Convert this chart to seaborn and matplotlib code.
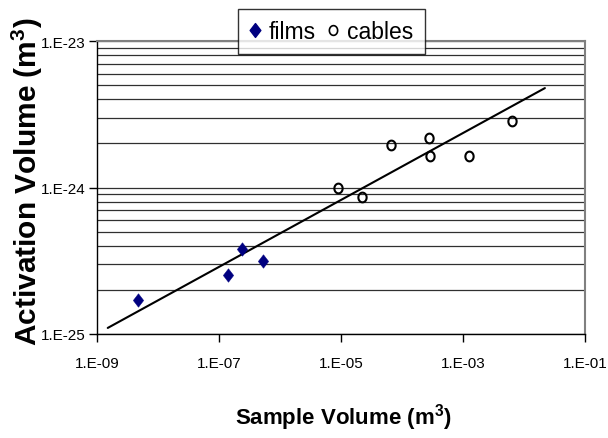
import numpy as np
import pandas as pd
import matplotlib
matplotlib.use("Agg")
import matplotlib.pyplot as plt
from matplotlib.path import Path
from matplotlib.lines import Line2D
import seaborn as sns

# ---- data ----
films_x = [4.7e-9, 1.41e-7, 2.41e-7, 5.26e-7]
films_y = [1.71e-25, 2.51e-25, 3.78e-25, 3.15e-25]
cables_x = [8.9e-6, 2.2e-5, 6.7e-5, 2.74e-4, 2.92e-4, 1.24e-3, 6.35e-3]
cables_y = [1.0e-24, 8.6e-25, 1.95e-24, 2.17e-24, 1.65e-24, 1.65e-24, 2.86e-24]
trend_x = [1.5e-9, 2.2e-2]
trend_y = [1.1e-25, 4.77e-24]
x_ticks = [1e-9, 1e-7, 1e-5, 1e-3, 1e-1]
x_tick_labels = ["1.E-09", "1.E-07", "1.E-05", "1.E-03", "1.E-01"]
y_ticks = [1e-25, 1e-24, 1e-23]
y_tick_labels = ["1.E-25", "1.E-24", "1.E-23"]

sns.set_style("white")
plt.rcParams['font.family'] = ['Liberation Sans', 'DejaVu Sans']
plt.rcParams['mathtext.fontset'] = 'custom'
plt.rcParams['mathtext.rm'] = 'Liberation Sans'
plt.rcParams['mathtext.bf'] = 'Liberation Sans:bold'
plt.rcParams['text.color'] = 'black'
plt.rcParams['xtick.color'] = 'black'
plt.rcParams['ytick.color'] = 'black'

fig = plt.figure(figsize=(6.08, 4.39), dpi=100)
ax = fig.add_axes([97/608, 1-335/439, (585-97)/608, (335-42)/439])
ax.set_xscale("log")
ax.set_yscale("log")
ax.set_xlim(1e-9, 1e-1)
ax.set_ylim(1e-25, 1e-23)

grid_vals = [m * 10.0**e for e in (-25, -24) for m in range(1, 10)] + [1e-23]
for g in grid_vals:
    ax.axhline(g, color="#303030", lw=0.9, zorder=0)

t = np.linspace(0, 2*np.pi, 40)
ell = Path(np.column_stack([0.85*np.cos(t), np.sin(t)]), closed=True)
dia = Path([(0, 1), (0.77, 0), (0, -1), (-0.77, 0), (0, 1)], closed=True)

films = pd.DataFrame({"x": films_x, "y": films_y})
cables = pd.DataFrame({"x": cables_x, "y": cables_y})
trend = pd.DataFrame({"x": trend_x, "y": trend_y})

sns.lineplot(data=trend, x="x", y="y", ax=ax, color="black", lw=1.5, zorder=2)
sns.scatterplot(data=films, x="x", y="y", ax=ax, marker=dia, s=95,
                color="#000080", edgecolor="#000080", linewidth=0.3, zorder=3)
ax.plot(cables["x"], cables["y"], linestyle="none", marker=ell, ms=7,
        mfc="none", mec="black", mew=1.5, zorder=3)

ax.set_xticks(x_ticks)
ax.set_xticklabels(x_tick_labels)
ax.set_yticks(y_ticks)
ax.set_yticklabels(y_tick_labels)
ax.minorticks_off()
ax.tick_params(axis="both", which="major", direction="out", length=6,
               width=1, color="black", labelsize=11, bottom=True, left=True)
ax.tick_params(axis="x", pad=10)
ax.tick_params(axis="y", pad=2)

for s in ("left", "bottom"):
    ax.spines[s].set_color("black")
    ax.spines[s].set_linewidth(1)
for s in ("top", "right"):
    ax.spines[s].set_color("#808080")
    ax.spines[s].set_linewidth(1.5)

ax.set_xlabel("")
ax.set_ylabel("")
fig.text(343/608, 1-418/439, "Sample Volume (m$\\mathbf{^3}$)", ha="center", va="center",
         fontsize=16, fontweight="bold")
fig.text(27/608, 1-182/439, "Activation Volume (m$\\mathbf{^3}$)", ha="center", va="center",
         rotation=90, fontsize=21.5, fontweight="bold")

handles = [Line2D([], [], linestyle="none", marker=dia, ms=10, color="#000080"),
           Line2D([], [], linestyle="none", marker=ell, ms=7, mfc="none",
                  mec="black", mew=1.2)]
leg = fig.legend(handles, ["films", "cables"], ncol=2, loc="center",
                 bbox_to_anchor=(331.5/608, 1-32.5/439), frameon=True, fancybox=False,
                 edgecolor="black", handlelength=0.5,
                 handletextpad=0.35, columnspacing=0.5, borderpad=0.5,
                 prop={"size": 16.5})
leg.get_frame().set_linewidth(1)

fig.savefig("out.png", dpi=100)
